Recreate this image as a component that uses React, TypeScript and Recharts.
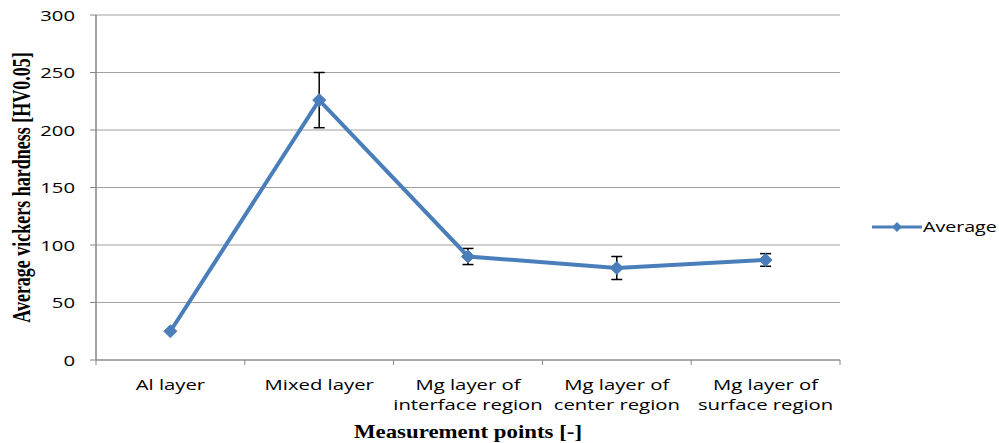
import React from 'react';
import { LineChart, Line, XAxis, YAxis, CartesianGrid, ErrorBar, Legend } from 'recharts';

const categories = [
  'Al layer',
  'Mixed layer',
  'Mg layer of\ninterface region',
  'Mg layer of\ncenter region',
  'Mg layer of\nsurface region',
];
const averageValues = [25, 226, 90, 80, 87];
const errorValues = [0, 24, 7, 10, 5.5];
const yTicks = [0, 50, 100, 150, 200, 250, 300];
const seriesName = 'Average';
const yTitle = 'Average vickers hardness [HV0.05]';
const xTitle = 'Measurement points [-]';

const data = categories.map((c, i) => ({ name: c, avg: averageValues[i], err: errorValues[i] }));

const W = 999;
const H = 443;
const MARGIN = { top: 15, right: 159, left: 0, bottom: 23 };
const Y_AXIS_W = 96;
const X_AXIS_H = 60;
const PLOT_W = W - MARGIN.left - MARGIN.right - Y_AXIS_W;
const HALF_BAND = PLOT_W / categories.length / 2;

const SANS = '"Open Sans", sans-serif';
const SERIF = '"Liberation Serif", "Times New Roman", serif';
const SX = 1.4;
const BLUE = '#4A7EBB';
const AXIS = '#868686';
const GRID = '#A0A0A0';

const YTick = (props: any) => {
  const { x, y, payload } = props;
  return (
    <text
      transform={`translate(${x},${y}) scale(${SX},1)`}
      textAnchor="end"
      dominantBaseline="central"
      fontFamily={SANS}
      fontSize={14.5}
      fill="#000"
    >
      {payload.value}
    </text>
  );
};

const XTick = (props: any) => {
  const { x, y, payload, index, visibleTicksCount } = props;
  const axisY = y - 6;
  const lines = String(payload.value).split('\n');
  return (
    <g>
      <line x1={x - HALF_BAND} x2={x - HALF_BAND} y1={axisY} y2={axisY + 5} stroke={AXIS} strokeWidth={1} />
      {index === (visibleTicksCount ?? categories.length) - 1 && (
        <line x1={x + HALF_BAND} x2={x + HALF_BAND} y1={axisY} y2={axisY + 5} stroke={AXIS} strokeWidth={1} />
      )}
      <text
        transform={`translate(${x},${axisY + 30}) scale(${SX},1)`}
        textAnchor="middle"
        fontFamily={SANS}
        fontSize={14.5}
        fill="#000"
      >
        {lines.map((l, i) => (
          <tspan key={i} x={0} dy={i === 0 ? 0 : 20}>
            {l}
          </tspan>
        ))}
      </text>
    </g>
  );
};

const Diamond = (props: any) => {
  const { cx, cy } = props;
  if (cx == null || cy == null) return null;
  const rx = 6.5;
  const ry = 6.5;
  return (
    <polygon
      points={`${cx},${cy - ry} ${cx + rx},${cy} ${cx},${cy + ry} ${cx - rx},${cy}`}
      fill={BLUE}
      stroke={BLUE}
      strokeWidth={1}
    />
  );
};

const YLabel = (props: any) => {
  const vb = props.viewBox || {};
  const cy = (vb.y ?? 15) + (vb.height ?? 345) / 2;
  return (
    <text
      transform={`translate(22,${cy}) scale(1.35,1) rotate(-90)`}
      textAnchor="middle"
      dominantBaseline="central"
      fontFamily={SERIF}
      fontWeight="bold"
      fontSize={18}
      fill="#000"
    >
      {yTitle}
    </text>
  );
};

const XLabel = (props: any) => {
  const vb = props.viewBox || {};
  const cx = (vb.x ?? 96) + (vb.width ?? 744) / 2;
  const top = vb.y ?? 360;
  return (
    <text
      transform={`translate(${cx},${top + 78}) scale(1.27,1)`}
      textAnchor="middle"
      fontFamily={SERIF}
      fontWeight="bold"
      fontSize={18}
      fill="#000"
    >
      {xTitle}
    </text>
  );
};

const LegendContent = () => (
  <svg width={127} height={22} style={{ display: 'block', overflow: 'visible' }}>
    <line x1={0} x2={50} y1={10} y2={10} stroke={BLUE} strokeWidth={3} />
    <polygon points="25,5 30,10 25,15 20,10" fill={BLUE} />
    <text
      transform={`translate(51,10) scale(${SX},1)`}
      dominantBaseline="central"
      fontFamily={SANS}
      fontSize={14}
      fill="#000"
    >
      {seriesName}
    </text>
  </svg>
);

export default function App() {
  return (
    <div style={{ position: 'absolute', left: 0, top: 0, width: W, height: H, background: '#fff' }}>
      <LineChart width={W} height={H} data={data} margin={MARGIN}>
        <CartesianGrid vertical={false} stroke={GRID} strokeWidth={1} />
        <XAxis
          dataKey="name"
          type="category"
          scale="band"
          height={X_AXIS_H}
          stroke={AXIS}
          axisLine={{ stroke: AXIS, strokeWidth: 1 }}
          tickLine={false}
          tickSize={6}
          tickMargin={0}
          interval={0}
          tick={<XTick />}
          label={{ content: <XLabel /> }}
        />
        <YAxis
          type="number"
          domain={[0, 300]}
          ticks={yTicks}
          width={Y_AXIS_W}
          stroke={AXIS}
          axisLine={{ stroke: AXIS, strokeWidth: 1.5 }}
          tickLine={{ stroke: AXIS, strokeWidth: 1 }}
          tickSize={6}
          tickMargin={15}
          interval={0}
          tick={<YTick />}
          label={{ content: <YLabel /> }}
        />
        <Legend
          layout="horizontal"
          align="center"
          verticalAlign="middle"
          content={<LegendContent />}
          wrapperStyle={{ left: 872, top: 217, width: 127, height: 22 }}
        />
        <Line
          type="linear"
          dataKey="avg"
          name={seriesName}
          stroke={BLUE}
          strokeWidth={4}
          dot={<Diamond />}
          activeDot={false}
          isAnimationActive={false}
        >
          <ErrorBar dataKey="err" width={5.5} stroke="#000" strokeWidth={1.5} direction="y" />
        </Line>
      </LineChart>
    </div>
  );
}
